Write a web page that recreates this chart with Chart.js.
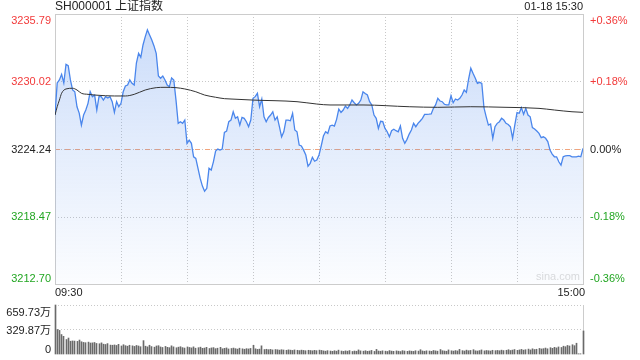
<!DOCTYPE html>
<html><head><meta charset="utf-8">
<script src="https://cdn.jsdelivr.net/npm/chart.js@4.4.1/dist/chart.umd.min.js"></script>
<style>
html,body{margin:0;padding:0;background:#fff;}
#wrap{position:relative;width:640px;height:360px;overflow:hidden;background:#fff;}
canvas{position:absolute;left:0;top:0;}
</style></head><body>
<div id="wrap"><canvas id="price" width="640" height="360"></canvas><canvas id="vol" width="640" height="360"></canvas></div>
<script>
// ---------- data ----------
const titleText = 'SH000001 上证指数';
const dateText = '01-18 15:30';
const watermark = 'sina.com';
const prevClose = 3224.24;
const priceTicks = [3212.70, 3218.47, 3224.24, 3230.02, 3235.79];
const pctLabels = ['-0.36%', '-0.18%', '0.00%', '+0.18%', '+0.36%'];
const timeLabels = ['09:30', '15:00'];
const gridMinutes = [0, 30, 60, 90, 120, 150, 180, 210, 240];

// minute-by-minute index level (0 = 09:30 ... 240 = 15:00)
const prices = [
3227.15,3229.89,3230.15,3230.63,3229.89,3231.49,3231.37,3230.15,3229.29,3229.14,
3227.86,3227.32,3226.29,3227.15,3227.58,3228.15,3229.14,3228.72,3228.86,3227.58,
3228.72,3228.72,3228.43,3228.72,3228.61,3228.72,3228.29,3227.38,3228.29,3227.86,
3228.15,3229.14,3229.63,3229.72,3230.15,3229.86,3229.72,3231.60,3232.43,3232.09,
3233.14,3233.83,3234.43,3234.00,3233.57,3233.06,3232.43,3230.49,3230.29,3230.49,
3230.15,3229.72,3229.57,3230.32,3230.15,3228.43,3226.44,3226.58,3226.44,3226.72,
3224.73,3225.01,3224.73,3223.58,3223.44,3222.59,3221.73,3221.07,3220.64,3220.88,
3222.59,3222.44,3223.15,3224.07,3224.24,3224.15,3224.24,3225.67,3225.78,3226.58,
3226.72,3227.43,3226.87,3227.00,3226.29,3226.95,3226.87,3226.58,3226.15,3226.72,
3228.58,3228.72,3229.01,3227.86,3228.52,3227.00,3226.58,3226.94,3227.15,3227.43,
3226.72,3227.00,3226.15,3225.29,3225.72,3226.72,3226.72,3226.66,3227.30,3225.87,
3225.72,3224.58,3224.50,3224.15,3223.73,3222.78,3223.02,3223.53,3223.20,3223.30,
3223.73,3224.50,3225.35,3225.72,3225.58,3226.21,3226.29,3226.21,3226.78,3227.66,
3227.38,3227.58,3227.92,3227.72,3228.01,3228.43,3228.20,3228.01,3228.15,3228.43,
3229.14,3228.99,3228.86,3228.29,3228.01,3227.15,3226.87,3226.01,3226.61,3226.58,
3226.01,3225.72,3225.29,3225.81,3225.93,3225.81,3225.72,3226.21,3225.16,3224.73,
3225.07,3225.52,3225.87,3226.44,3226.15,3226.44,3226.64,3226.87,3227.21,3227.21,
3227.22,3227.24,3227.72,3228.01,3228.58,3228.35,3228.29,3228.07,3228.01,3228.01,
3228.80,3228.20,3228.52,3228.43,3228.58,3228.86,3229.29,3229.09,3230.23,3231.15,
3230.72,3230.32,3229.86,3229.95,3229.86,3227.75,3227.00,3226.29,3226.38,3225.16,
3226.15,3226.44,3226.58,3226.87,3226.72,3226.44,3226.34,3226.15,3225.16,3226.29,
3227.36,3227.30,3227.78,3227.21,3227.72,3227.15,3227.00,3226.08,3225.95,3225.78,
3225.58,3225.21,3225.29,3225.16,3224.88,3224.15,3223.81,3223.58,3223.58,3223.15,
3222.87,3223.58,3223.66,3223.67,3223.67,3223.58,3223.58,3223.58,3223.64,3223.58,
3224.30
];

// average-price line, read at these minutes
const avgMinutes = [0,1,2,3,5,8,10,12,15,18,23,27,32,36,41,46,50,55,59,64,68,73,77,80,90,110,119,125,140,161,174,189,205,220,227,235,240];
const avgPrices  = [3227.15,3227.86,3228.43,3229.01,3229.38,3229.44,3229.29,3229.01,3228.92,3228.86,3228.80,3228.78,3228.78,3228.92,3229.29,3229.49,3229.52,3229.49,3229.38,3229.14,3228.86,3228.67,3228.55,3228.52,3228.43,3228.29,3228.09,3228.01,3228.01,3227.86,3227.81,3227.86,3227.81,3227.72,3227.58,3227.43,3227.38];

// volume per minute (万)
const volumes = [
659.73,
330,318,262,238,195,215,
172,176,174,170,188,165,156,152,160,
148,150,155,142,138,150,132,128,140,120,
118,122,115,130,108,125,112,105,118,110,102,115,108,98,180,
105,96,118,100,92,108,112,95,88,102,90,85,110,96,84,92,98,86,80,95,
88,82,96,78,85,92,76,80,90,74,82,86,72,78,90,70,76,82,68,74,80,72,66,78,70,64,72,68,75,118,
70,62,66,110,60,
64,58,62,55,60,57,52,58,54,50,56,52,48,55,50,46,52,48,44,50,47,43,49,45,52,
48,42,38,45,40,36,44,38,52,40,35,42,38,46,34,40,37,55,42,38,
44,36,40,48,35,62,40,37,43,38,34,46,39,36,42,38,33,45,40,36,
42,38,35,44,39,58,41,37,43,40,36,47,42,38,60,44,40,37,55,43,
39,46,41,62,45,40,52,44,48,58,43,40,46,55,42,47,44,40,50,45,
48,44,52,46,50,58,47,53,60,49,55,62,52,58,66,55,70,60,64,75,68,72,80,70,85,76,90,82,95,88,105,98,115,108,125,112,145,
3,3,310
];
const volTicks = [0, 329.87, 659.73];
const volLabels = ['0', '329.87万', '659.73万'];

// ---------- styling ----------
const FONT = '"Liberation Sans", Arial, "Noto Sans CJK SC", sans-serif';
const RED = '#f23a3a', GREEN = '#22a622', DARK = '#222222';
const GRID = '#c8c8c8', BORDER = '#cccccc';

function hLine(c, x1, x2, y, color, dash) {
  c.save(); c.strokeStyle = color; c.lineWidth = 1; c.setLineDash(dash || []);
  c.beginPath(); c.moveTo(x1, Math.round(y) + 0.5); c.lineTo(x2, Math.round(y) + 0.5); c.stroke(); c.restore();
}
function vLine(c, x, y1, y2, color, dash) {
  c.save(); c.strokeStyle = color; c.lineWidth = 1; c.setLineDash(dash || []);
  c.beginPath(); c.moveTo(Math.round(x) + 0.5, y1); c.lineTo(Math.round(x) + 0.5, y2); c.stroke(); c.restore();
}
function txt(c, s, x, y, color, align, size) {
  c.save(); c.fillStyle = color; c.font = (size || 11) + 'px ' + FONT;
  c.textAlign = align; c.textBaseline = 'middle'; c.fillText(s, x, y); c.restore();
}

const priceDecor = {
  id: 'priceDecor',
  beforeDatasetsDraw(chart) {
    const c = chart.ctx, a = chart.chartArea, xs = chart.scales.x, ys = chart.scales.y;
    gridMinutes.slice(1, -1).forEach(m => vLine(c, xs.getPixelForValue(m), a.top, a.bottom, GRID, [1, 2]));
    priceTicks.slice(1, -1).forEach(v => hLine(c, a.left, a.right, ys.getPixelForValue(v), GRID, [1, 2]));
    hLine(c, a.left, a.right, ys.getPixelForValue(prevClose), '#f2a47c', [5, 5]);
    c.save(); c.strokeStyle = BORDER; c.lineWidth = 1;
    c.strokeRect(Math.round(a.left) + 0.5, Math.round(a.top) + 0.5, Math.round(a.right - a.left), Math.round(a.bottom - a.top));
    c.restore();
    txt(c, watermark, a.right - 3, a.bottom - 7, '#dcdcdc', 'right', 11);
  },
  afterDraw(chart) {
    const c = chart.ctx, a = chart.chartArea, ys = chart.scales.y, xs = chart.scales.x;
    const n = priceTicks.length;
    priceTicks.forEach((v, i) => {
      let y = ys.getPixelForValue(v) + 0.5;
      if (i === n - 1) y += 6; else if (i === 0) y -= 6;
      const col = v > prevClose + 0.001 ? RED : (v < prevClose - 0.001 ? GREEN : DARK);
      txt(c, v.toFixed(2), a.left - 4, y, col, 'right', 11);
      txt(c, pctLabels[i], a.right + 7, y, col, 'left', 11);
    });
    txt(c, timeLabels[0], xs.getPixelForValue(gridMinutes[0]), a.bottom + 9, DARK, 'left', 11);
    txt(c, timeLabels[1], xs.getPixelForValue(gridMinutes[gridMinutes.length - 1]) + 2, a.bottom + 9, DARK, 'right', 11);
    txt(c, titleText, a.left, 7, DARK, 'left', 12);
    txt(c, dateText, a.right, 7, DARK, 'right', 11);
  }
};

const volDecor = {
  id: 'volDecor',
  afterDatasetsUpdate(chart) {
    // snap the 1px bars to whole pixels so they stay crisp
    chart.getDatasetMeta(0).data.forEach(el => { el.x = Math.floor(el.x) + 0.5; });
  },
  beforeDatasetsDraw(chart) {
    const c = chart.ctx, a = chart.chartArea, ys = chart.scales.y;
    volTicks.slice(1).forEach(v => hLine(c, a.left, a.right, ys.getPixelForValue(v), GRID, [1, 2]));
    vLine(c, a.left, a.top, a.bottom, BORDER);
    vLine(c, a.right, a.top, a.bottom, BORDER);
  },
  afterDraw(chart) {
    const c = chart.ctx, a = chart.chartArea, ys = chart.scales.y;
    volTicks.forEach((v, i) => {
      let y = ys.getPixelForValue(v) + 1;
      if (i === volTicks.length - 1) y += 7; else if (i === 0) y -= 5;
      txt(c, volLabels[i], a.left - 4, y, DARK, 'right', 11);
    });
  }
};

new Chart(document.getElementById('price'), {
  type: 'line',
  data: {
    datasets: [
      {
        data: prices.map((p, i) => ({ x: i, y: p })),
        borderColor: '#4a86ec', borderWidth: 1.3, pointRadius: 0, tension: 0,
        fill: 'start',
        backgroundColor: (ctx) => {
          const ch = ctx.chart, ar = ch.chartArea;
          if (!ar) return 'rgba(74,134,236,0.15)';
          const g = ch.ctx.createLinearGradient(0, ar.top, 0, ar.bottom);
          g.addColorStop(0, 'rgba(74,134,236,0.30)');
          g.addColorStop(0.5, 'rgba(74,134,236,0.15)');
          g.addColorStop(1, 'rgba(74,134,236,0.02)');
          return g;
        },
        order: 2
      },
      {
        data: avgMinutes.map((m, i) => ({ x: m, y: avgPrices[i] })),
        borderColor: '#333333', borderWidth: 1, pointRadius: 0,
        cubicInterpolationMode: 'monotone', fill: false, order: 1
      }
    ]
  },
  options: {
    responsive: false, animation: false, devicePixelRatio: 1,
    layout: { padding: { left: 55, right: 57, top: 14, bottom: 76 } },
    plugins: { legend: { display: false }, tooltip: { enabled: false } },
    scales: {
      x: { type: 'linear', min: 0, max: 240, display: false },
      y: { type: 'linear', min: priceTicks[0], max: priceTicks[priceTicks.length - 1], display: false }
    }
  },
  plugins: [priceDecor]
});

new Chart(document.getElementById('vol'), {
  type: 'bar',
  data: {
    datasets: [{
      data: volumes.map((v, i) => ({ x: i, y: v })),
      backgroundColor: '#6a6a6a', barThickness: 1, clip: false
    }]
  },
  options: {
    responsive: false, animation: false, devicePixelRatio: 1,
    layout: { padding: { left: 55, right: 57, top: 305, bottom: 6 } },
    plugins: { legend: { display: false }, tooltip: { enabled: false } },
    scales: {
      x: { type: 'linear', min: 0, max: 240, offset: false, display: false },
      y: { type: 'linear', min: 0, max: volTicks[volTicks.length - 1], display: false }
    }
  },
  plugins: [volDecor]
});
</script>
</body></html>
